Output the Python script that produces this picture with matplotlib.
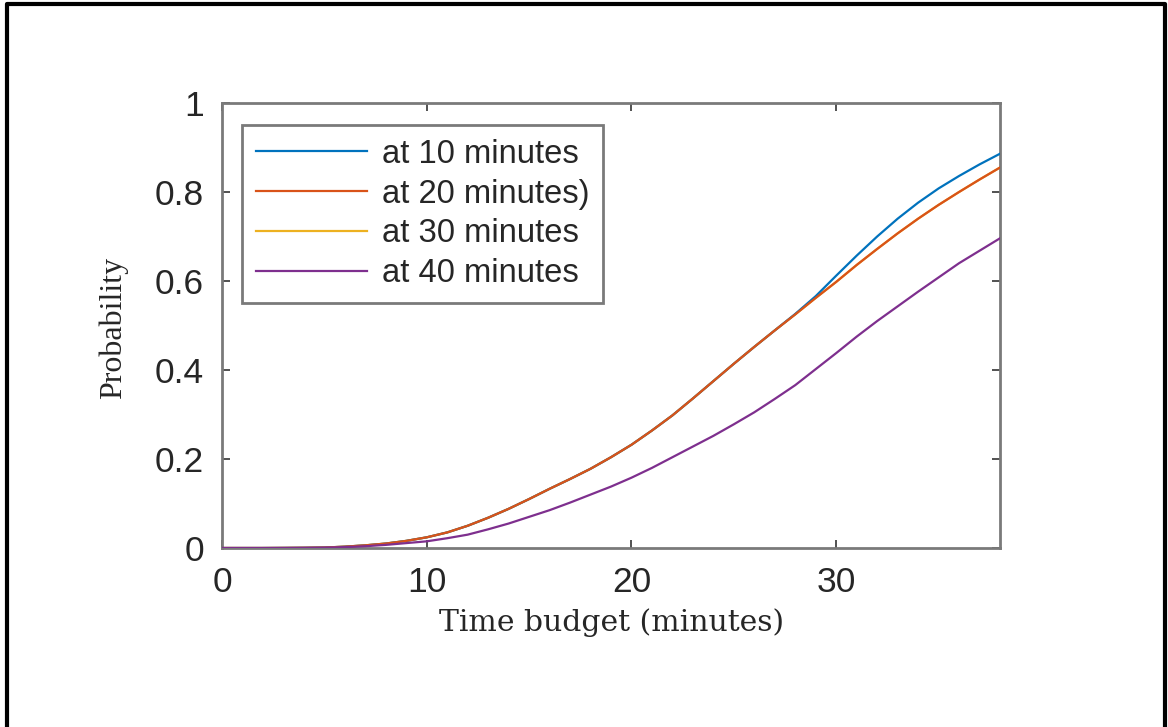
import numpy as np
import matplotlib.pyplot as plt
from matplotlib.lines import Line2D

# valori (probabilita' vs budget di tempo)
t = list(range(0, 39))
p20 = [0, 0, 0, 0.0002, 0.0005, 0.001, 0.003, 0.006, 0.010, 0.016,
       0.024, 0.035, 0.050, 0.068, 0.088, 0.110, 0.133, 0.155, 0.178, 0.204,
       0.232, 0.264, 0.298, 0.336, 0.375, 0.414, 0.452, 0.489, 0.525, 0.562,
       0.598, 0.636, 0.672, 0.707, 0.740, 0.771, 0.800, 0.828, 0.855]
p10 = [0, 0, 0, 0.0002, 0.0005, 0.001, 0.003, 0.006, 0.010, 0.016,
       0.024, 0.035, 0.050, 0.068, 0.088, 0.110, 0.133, 0.155, 0.178, 0.204,
       0.232, 0.264, 0.298, 0.336, 0.375, 0.414, 0.452, 0.489, 0.526, 0.566,
       0.612, 0.657, 0.700, 0.740, 0.776, 0.808, 0.836, 0.862, 0.886]
p30 = [0, 0, 0, 0.0002, 0.0005, 0.001, 0.003, 0.006, 0.010, 0.016,
       0.024, 0.035, 0.050, 0.068, 0.088, 0.110, 0.133, 0.155, 0.178, 0.204,
       0.232, 0.264, 0.298, 0.336, 0.375, 0.414, 0.452, 0.489, 0.525, 0.562,
       0.598, 0.636, 0.672, 0.707, 0.740, 0.771, 0.800, 0.828, 0.855]
p40 = [0, 0, 0, 0.0001, 0.0003, 0.0008, 0.002, 0.004, 0.007, 0.011,
       0.015, 0.022, 0.030, 0.042, 0.055, 0.070, 0.085, 0.102, 0.120, 0.138,
       0.158, 0.180, 0.204, 0.228, 0.252, 0.278, 0.305, 0.335, 0.366, 0.402,
       0.438, 0.475, 0.510, 0.543, 0.576, 0.608, 0.640, 0.668, 0.696]

labels = ['at 10 minutes', 'at 20 minutes)', 'at 30 minutes', 'at 40 minutes']
colors = ['#0072BD', '#D95319', '#EDB120', '#7E2F8E']
xticks = [0, 10, 20, 30]
yticks = [0, 0.2, 0.4, 0.6, 0.8, 1]
ytick_labels = ['0', '0.2', '0.4', '0.6', '0.8', '1']

W, H = 1168, 727
fig = plt.figure(figsize=(W / 100, H / 100), dpi=100)
ax = fig.add_axes([222 / W, 1 - 548 / H, (1000 - 222) / W, (548 - 103) / H])

series = [p10, p20, p30, p40]
zorders = [3, 4, 2, 5]
for y, lab, c, z in zip(series, labels, colors, zorders):
    ax.plot(t, y, color=c, linewidth=1.6, label=lab, zorder=z)

ax.set_xlim(0, 38)
ax.set_ylim(0, 1)
ax.set_xticks(xticks)
ax.set_yticks(yticks)
ax.set_yticklabels(ytick_labels)

gray = '#7a7a7a'
for s in ax.spines.values():
    s.set_color(gray)
    s.set_linewidth(2)
ax.tick_params(direction='in', length=6, width=1.2, color='#333333',
               top=True, right=True, labelsize=25.5, labelcolor='#262626',
               pad=13)
for lab in ax.get_xticklabels() + ax.get_yticklabels():
    lab.set_family('Liberation Sans')

fig.text(612 / W, 1 - 623 / H, 'Time budget (minutes)', ha='center', va='center',
         family='DejaVu Serif', fontsize=21.5, color='#262626')
fig.text(113 / W, 1 - 328 / H, 'Probability', ha='center', va='center',
         rotation=90, family='Liberation Serif', fontsize=23, color='#262626')

leg = ax.legend(loc='upper left', bbox_to_anchor=(242 / W, 1 - 125 / H),
                bbox_transform=fig.transFigure, borderaxespad=0,
                prop={'family': 'Liberation Sans', 'size': 23.6},
                handlelength=3.4, handletextpad=0.45, labelspacing=0.27,
                borderpad=0.42, fancybox=False, framealpha=1)
leg.get_frame().set_edgecolor(gray)
leg.get_frame().set_linewidth(2)
for txt in leg.get_texts():
    txt.set_color('#262626')

# cornice nera attorno alla figura (lati sinistro, alto, destro)
fig.add_artist(Line2D([7 / W, 7 / W, 1165 / W, 1165 / W],
                      [0, 1 - 4 / H, 1 - 4 / H, 0],
                      transform=fig.transFigure, color='black', linewidth=3))

fig.savefig('out.png', dpi=100)
